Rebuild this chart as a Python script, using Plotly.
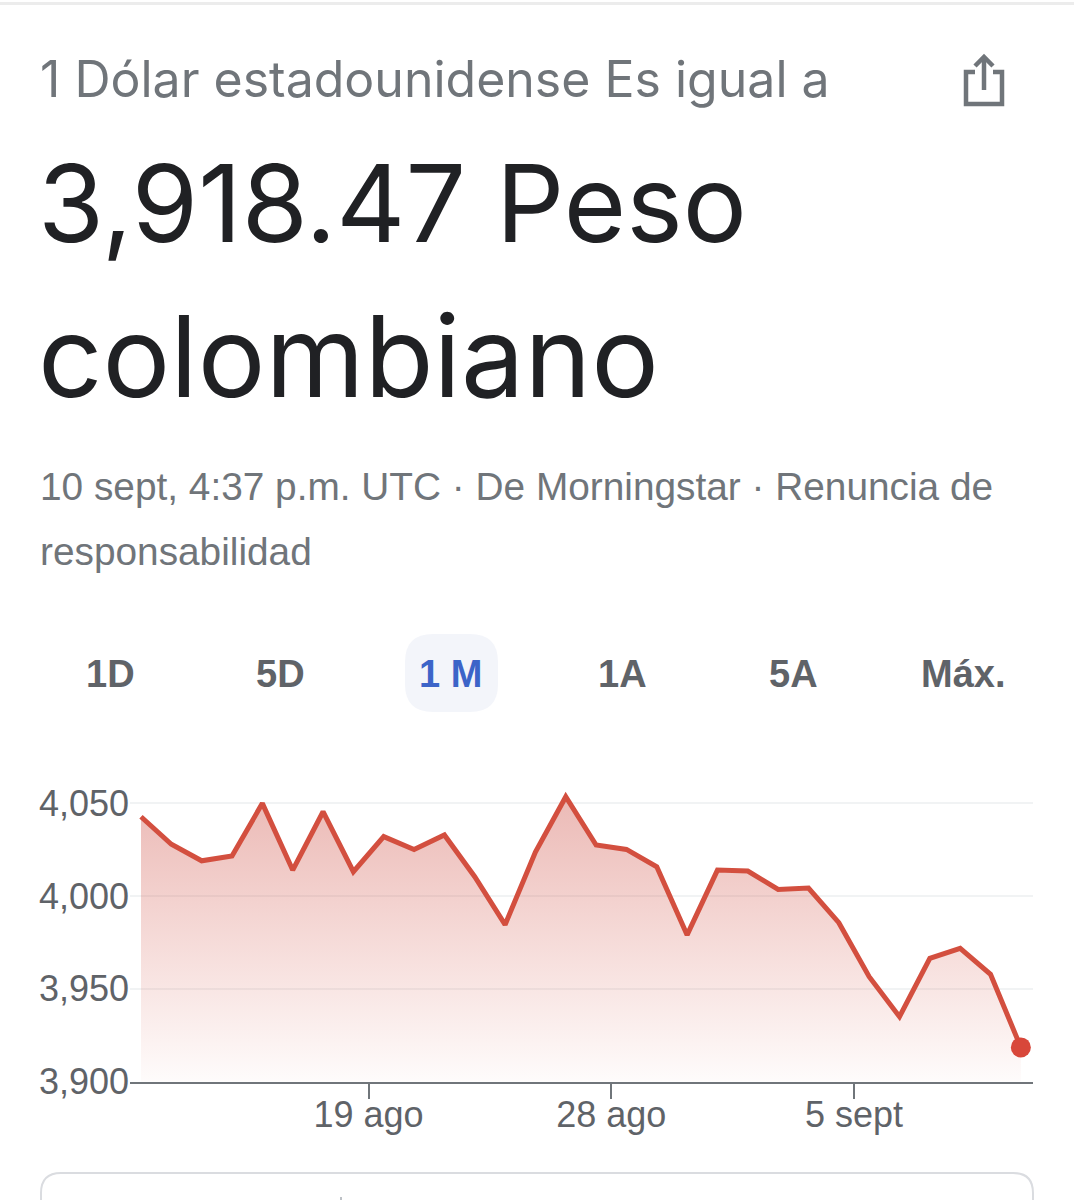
import plotly.graph_objects as go

# ---- data ----
point_index = list(range(30))
rate_values = [4042.6, 4027.8, 4018.9, 4021.5, 4049.8, 4013.9, 4045.3, 4013.0, 4031.9, 4025.0,
               4032.8, 4010.3, 3984.5, 4023.6, 4053.4, 4027.4, 4025.0, 4015.7, 3979.0, 4013.9,
               4013.4, 4003.5, 4004.2, 3985.6, 3956.5, 3935.0, 3966.4, 3971.8, 3957.8, 3918.47]
y_ticks = [3900, 3950, 4000, 4050]
y_tick_labels = ["3,900", "3,950", "4,000", "4,050"]
x_ticks = [7.5, 15.5, 23.5]
x_tick_labels = ["19 ago", "28 ago", "5 sept"]
tab_labels = ["1D", "5D", "1 M", "1A", "5A", "Máx."]

W, H = 1074, 1200
PX = lambda x: x / W
PY = lambda y: 1 - y / H
BODY = "Inter, Roboto, Arial, sans-serif"
UI = "'Liberation Sans', Arial, sans-serif"
GREY = "#5f6368"
RED = "#d34f3f"

# plot-area pixel frame
left, right, top, bottom = 130, 1033, 790, 1081.7
x_first, x_step = 141, 30.34
val_per_px = 50 / 92.9

fig = go.Figure()
fig.add_trace(go.Scatter(x=[point_index[0], point_index[-1]], y=[y_ticks[0]] * 2, mode="lines",
                         line=dict(width=0), hoverinfo="skip", showlegend=False))
fig.add_trace(go.Scatter(
    x=point_index, y=rate_values, mode="lines", fill="tonexty",
    fillgradient=dict(type="vertical", start=4055, stop=3900,
                      colorscale=[[0, "rgba(205,80,70,0.40)"], [1, "rgba(214,80,66,0.02)"]]),
    line=dict(color=RED, width=5, shape="linear"), showlegend=False))
fig.add_trace(go.Scatter(x=point_index[-1:], y=rate_values[-1:], mode="markers",
                         marker=dict(color="#d8473a", size=20), showlegend=False))

def text(s, x, y, size, color=GREY, font=BODY, anchor="left", weight=None):
    fig.add_annotation(text=s, x=PX(x), y=PY(y), xref="paper", yref="paper", xanchor=anchor,
                       yanchor="middle", showarrow=False, align=anchor,
                       font=dict(size=size, color=color, family=font, weight=weight))

text("1 Dólar estadounidense Es igual a", 38, 79, 50, "#70757a")
text("3,918.47 Peso", 36, 203, 107, "#202124")
text("colombiano", 36, 356, 113, "#202124")
text("10 sept, 4:37 p.m. UTC · De Morningstar · Renuncia de", 38, 487, 38.8, "#70757a", UI)
text("responsabilidad", 38, 551, 38.8, "#70757a", UI)

tab_x = [110, 280, 451, 622, 793, 963]
for label, cx in zip(tab_labels, tab_x):
    text(label, cx, 674, 38, "#3c64c8" if label == "1 M" else GREY, UI, "center", 700)

def rrect(x0, y0, x1, y1, r):
    return (f"M {PX(x0+r)} {PY(y0)} L {PX(x1-r)} {PY(y0)} Q {PX(x1)} {PY(y0)} {PX(x1)} {PY(y0+r)} "
            f"L {PX(x1)} {PY(y1-r)} Q {PX(x1)} {PY(y1)} {PX(x1-r)} {PY(y1)} L {PX(x0+r)} {PY(y1)} "
            f"Q {PX(x0)} {PY(y1)} {PX(x0)} {PY(y1-r)} L {PX(x0)} {PY(y0+r)} Q {PX(x0)} {PY(y0)} {PX(x0+r)} {PY(y0)} Z")

def poly(pts):
    return "M " + " L ".join(f"{PX(a)} {PY(b)}" for a, b in pts)

shapes = [
    dict(type="rect", xref="paper", yref="paper", x0=0, x1=1, y0=PY(5), y1=PY(2),
         fillcolor="#ececec", line_width=0),
    dict(type="path", xref="paper", yref="paper", path=rrect(405, 634, 498, 712, 28),
         fillcolor="#f3f5fa", line_width=0, layer="below"),
    dict(type="path", xref="paper", yref="paper", path=rrect(41, 1173, 1033, 1260, 20),
         fillcolor="white", line=dict(color="#dadce0", width=2)),
    dict(type="line", xref="paper", yref="paper", x0=PX(341), x1=PX(341), y0=PY(1197), y1=PY(1200),
         line=dict(color="#bdc1c6", width=2)),
]
icon = dict(color="#70757a", width=4.5)
for pts in ([(975, 72), (966, 72), (966, 104), (1002, 104), (1002, 72), (993, 72)],
            [(984, 90), (984, 57)],
            [(975, 66), (984, 57), (993, 66)]):
    shapes.append(dict(type="path", xref="paper", yref="paper", path=poly(pts), line=icon))

fig.update_layout(
    width=W, height=H, margin=dict(l=0, r=0, t=0, b=0), autosize=False,
    paper_bgcolor="white", plot_bgcolor="white", shapes=shapes, showlegend=False,
    xaxis=dict(domain=[PX(left), PX(right)], automargin=False,
               range=[(left - x_first) / x_step, (right - x_first) / x_step],
               tickmode="array", tickvals=x_ticks, ticktext=x_tick_labels,
               showgrid=False, zeroline=False, showline=True, linecolor="#70757a", linewidth=2,
               ticks="outside", ticklen=15, tickwidth=2, tickcolor="#70757a", ticklabelstandoff=-15,
               tickfont=dict(size=36, color=GREY, family=UI)),
    yaxis=dict(domain=[PY(bottom), PY(top)], automargin=False,
               range=[3900, 3900 + (bottom - top) * val_per_px],
               tickmode="array", tickvals=y_ticks, ticktext=y_tick_labels,
               showgrid=True, gridcolor="#f1f3f4", gridwidth=2, zeroline=False, showline=False,
               ticks="", tickfont=dict(size=36, color=GREY, family=UI)),
)
fig.write_html("out.html", config=dict(displayModeBar=False),
               post_script="document.body.style.margin='0';")
